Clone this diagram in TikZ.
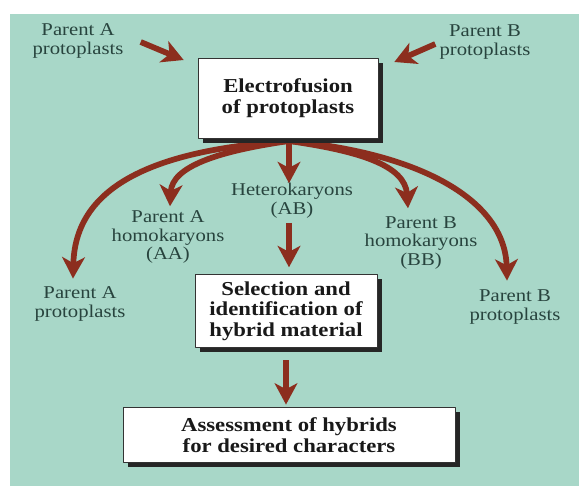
\documentclass[tikz,border=0pt]{standalone}
\usepackage{fontspec}
\setmainfont{Liberation Serif}[FakeStretch=1.15]
\usetikzlibrary{arrows.meta,calc,shadows}
\definecolor{seafoam}{RGB}{168,215,200}
\definecolor{rust}{RGB}{140,46,30}
\definecolor{labelink}{RGB}{40,68,62}
\begin{document}
\begin{tikzpicture}[
		x=0.75pt, y=-0.75pt, line join=round,
		lbl/.style={align=center, inner sep=0pt, text=labelink, font=\fontsize{13.5}{14}\selectfont},
		procbox/.style={draw=black!80, line width=0.6pt, fill=white, align=center, inner sep=2pt,
			font=\fontsize{14.8}{15.5}\selectfont\bfseries, text=black!90,
			drop shadow={shadow xshift=3.5pt, shadow yshift=-3.5pt, opacity=1, fill=black!85}},
		brownarrow/.style={draw=rust, line width=4.3pt, -{Stealth[length=16pt, width=17pt, inset=4.5pt]}}
		]
		\useasboundingbox (0,0) rectangle (579,486);
		\fill[seafoam] (10,14) rectangle (579,486);
		% labels
		\node[lbl] (pAin) at (78,41) {Parent A\\protoplasts};
		\node[lbl] (pBin) at (485,42) {Parent B\\protoplasts};
		\node[lbl] (homoA) at (168,237) {Parent A\\homokaryons\\(AA)};
		\node[lbl] (hetero) at (292,201) {Heterokaryons\\(AB)};
		\node[lbl] (homoB) at (421,243) {Parent B\\homokaryons\\(BB)};
		\node[lbl] (pAout) at (80,304) {Parent A\\protoplasts};
		\node[lbl] (pBout) at (515,307) {Parent B\\protoplasts};
		% arrows
		\draw[brownarrow] ($(pAin.east)+(17,1)$) -- ($(pAin.east)+(60,19)$) coordinate (tipA);
		\draw[brownarrow] ($(pBin.west)+(-4,2)$) -- ($(pBin.west)+(-45,20)$) coordinate (tipB);
		\coordinate (fan) at (289,141);
		\draw[brownarrow] (fan) .. controls +(-150,10) and +(2,-85) .. ($(pAout.north)+(-7,-8)$);
		\draw[brownarrow] (fan) .. controls +(-70,10) and +(2,-40) .. ($(homoA.north)+(2,-4)$);
		\draw[brownarrow] (fan) -- (fan |- hetero.north);
		\draw[brownarrow] (fan) .. controls +(70,10) and +(-3,-43) .. ($(homoB.north)+(-13,-8)$);
		\draw[brownarrow] (fan) .. controls +(132,12) and +(-2,-80) .. ($(pBout.north)+(-8,-9)$);
		% boxes
		\node[procbox, minimum width=135pt, minimum height=60pt] (fusion) at (288,98) {Electrofusion\\of protoplasts};
		\node[procbox, minimum width=136.5pt, minimum height=55pt] (select) at (286,311) {Selection and\\identification of\\hybrid material};
		\node[procbox, minimum width=249pt, minimum height=41pt] (assess) at (289,435) {Assessment of hybrids\\for desired characters};
		\draw[brownarrow, shorten <=3pt, shorten >=5pt] (hetero.south -| fan) -- (fan |- select.north);
		\draw[brownarrow, shorten <=9pt, shorten >=2pt] (select.south) -- (select.south |- assess.north);
\end{tikzpicture}
\end{document}
